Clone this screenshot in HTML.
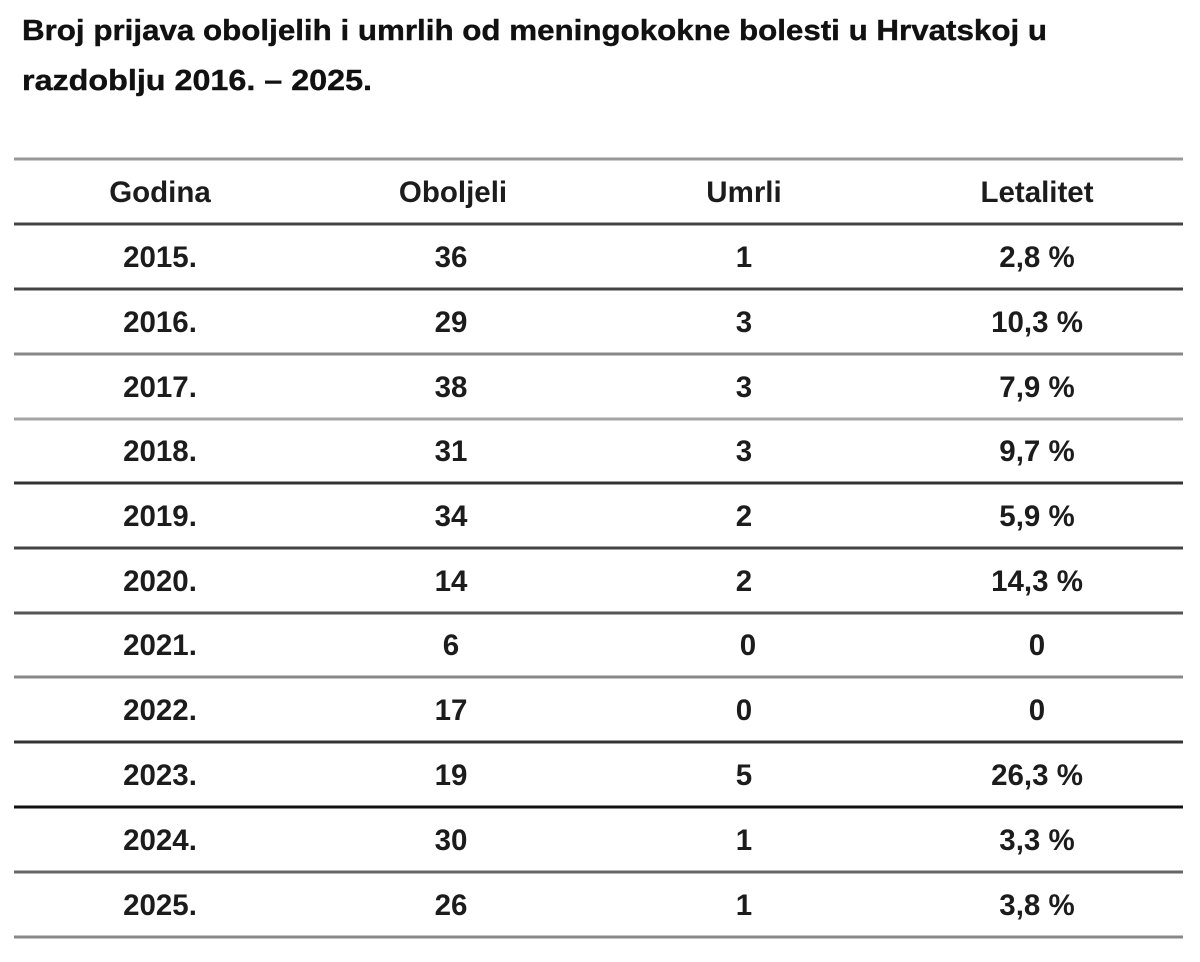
<!DOCTYPE html>
<html>
<head>
<meta charset="utf-8">
<style>
html,body{margin:0;padding:0;background:#fff;}
svg{display:block;}
.t{font-family:"Liberation Sans",sans-serif;font-weight:700;fill:#111;stroke:#111;stroke-width:0.4;}
.c{font-family:"Liberation Sans",sans-serif;font-weight:700;fill:#1c1c1c;font-size:29.5px;text-anchor:middle;}
</style>
</head>
<body>
<svg width="1200" height="962" viewBox="0 0 1200 962" xmlns="http://www.w3.org/2000/svg">
<rect width="1200" height="962" fill="#fff"/>
<text class="t" x="22" y="40" font-size="29" textLength="1025" lengthAdjust="spacingAndGlyphs">Broj prijava oboljelih i umrlih od meningokokne bolesti u Hrvatskoj u</text>
<text class="t" x="22" y="90" font-size="29" textLength="350" lengthAdjust="spacingAndGlyphs">razdoblju 2016. – 2025.</text>

<g stroke-width="3">
<line x1="14" x2="1183" y1="159" y2="159" stroke="#999"/>
<line x1="14" x2="1183" y1="224" y2="224" stroke="#444"/>
<line x1="14" x2="1183" y1="289" y2="289" stroke="#444"/>
<line x1="14" x2="1183" y1="354" y2="354" stroke="#888"/>
<line x1="14" x2="1183" y1="419" y2="419" stroke="#a5a5a5"/>
<line x1="14" x2="1183" y1="483" y2="483" stroke="#333"/>
<line x1="14" x2="1183" y1="548" y2="548" stroke="#444"/>
<line x1="14" x2="1183" y1="613" y2="613" stroke="#555"/>
<line x1="14" x2="1183" y1="677" y2="677" stroke="#888"/>
<line x1="14" x2="1183" y1="742" y2="742" stroke="#333"/>
<line x1="14" x2="1183" y1="807" y2="807" stroke="#111"/>
<line x1="14" x2="1183" y1="872" y2="872" stroke="#666"/>
<line x1="14" x2="1183" y1="937" y2="937" stroke="#888"/>
</g>

<g>
<text class="c" x="160" y="202">Godina</text>
<text class="c" x="453" y="202">Oboljeli</text>
<text class="c" x="744" y="202">Umrli</text>
<text class="c" x="1037" y="202">Letalitet</text>

<text class="c" x="160" y="267">2015.</text><text class="c" x="451" y="267">36</text><text class="c" x="744" y="267">1</text><text class="c" x="1037" y="267">2,8 %</text>
<text class="c" x="160" y="332">2016.</text><text class="c" x="451" y="332">29</text><text class="c" x="744" y="332">3</text><text class="c" x="1037" y="332">10,3 %</text>
<text class="c" x="160" y="397">2017.</text><text class="c" x="451" y="397">38</text><text class="c" x="744" y="397">3</text><text class="c" x="1037" y="397">7,9 %</text>
<text class="c" x="160" y="461">2018.</text><text class="c" x="451" y="461">31</text><text class="c" x="744" y="461">3</text><text class="c" x="1037" y="461">9,7 %</text>
<text class="c" x="160" y="526">2019.</text><text class="c" x="451" y="526">34</text><text class="c" x="744" y="526">2</text><text class="c" x="1037" y="526">5,9 %</text>
<text class="c" x="160" y="591">2020.</text><text class="c" x="451" y="591">14</text><text class="c" x="744" y="591">2</text><text class="c" x="1037" y="591">14,3 %</text>
<text class="c" x="160" y="655">2021.</text><text class="c" x="451" y="655">6</text><text class="c" x="748" y="655">0</text><text class="c" x="1037" y="655">0</text>
<text class="c" x="160" y="720">2022.</text><text class="c" x="451" y="720">17</text><text class="c" x="744" y="720">0</text><text class="c" x="1037" y="720">0</text>
<text class="c" x="160" y="785">2023.</text><text class="c" x="451" y="785">19</text><text class="c" x="744" y="785">5</text><text class="c" x="1037" y="785">26,3 %</text>
<text class="c" x="160" y="850">2024.</text><text class="c" x="451" y="850">30</text><text class="c" x="744" y="850">1</text><text class="c" x="1037" y="850">3,3 %</text>
<text class="c" x="160" y="915">2025.</text><text class="c" x="451" y="915">26</text><text class="c" x="744" y="915">1</text><text class="c" x="1037" y="915">3,8 %</text>
</g>
</svg>
</body>
</html>
